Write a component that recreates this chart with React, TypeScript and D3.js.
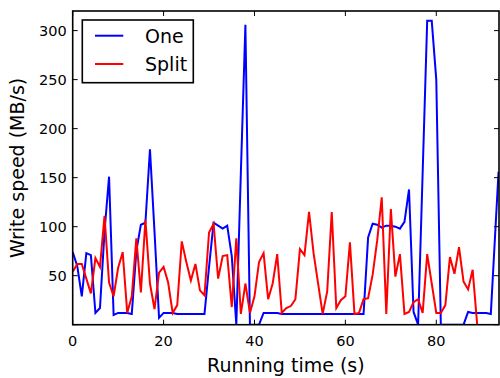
import React, { useEffect, useRef } from 'react';
import * as d3 from 'd3';

// write speed samples (MB/s), one per second
const oneSpeed = [
  74, 60, 29, 73, 71, 12, 17, 95, 151, 10,
  12, 12, 12, 11, 75, 102, 104, 179, 95, 7,
  12, 12, 12, 11, 11, 11, 11, 11, 11, 11,
  59, 104, 101, 98, 101, 70, 0, 155, 306, 0,
  0, 0, 12, 12, 12, 12, 11, 11, 11, 11,
  11, 11, 11, 11, 11, 11, 11, 11, 11, 11,
  11, 11, 11, 11, 11, 89, 103, 102, 99, 101,
  101, 100, 98, 105, 138, 13, 0, 155, 310, 310,
  250, 0, 0, 0, 0, 0, 0, 13, 12, 12,
  12, 12, 11, 156,
];
// last "One" sample lands a bit after 93 s
const oneTimes = [...d3.range(93), 93.7];

const splitSpeed = [
  54, 62, 62, 47, 32, 68, 59, 111, 43, 29,
  58, 74, 12, 29, 88, 33, 107, 42, 16, 53,
  59, 43, 12, 20, 85, 64, 45, 62, 35, 30,
  94, 103, 47, 70, 71, 18, 88, 11, 42, 12,
  29, 64, 73, 26, 42, 72, 12, 17, 19, 26,
  77, 71, 115, 73, 42, 11, 34, 115, 17, 25,
  29, 84, 11, 12, 26, 27, 51, 86, 130, 11,
  118, 49, 72, 11, 13, 23, 26, 12, 72, 42,
  12, 12, 20, 69, 52, 79, 44, 36, 56, 0,
];

const xTicks = [0, 20, 40, 60, 80];
const yTicks = [0, 50, 100, 150, 200, 250, 300];
const yLabelTicks = [50, 100, 150, 200, 250, 300];

const series = [
  { name: 'One', color: '#0000ff', times: oneTimes, values: oneSpeed },
  { name: 'Split', color: '#ff0000', times: splitSpeed.map((_, i) => i), values: splitSpeed },
];

const App: React.FC = () => {
  const chartRef = useRef<SVGSVGElement | null>(null);

  useEffect(() => {
    const W = 500, H = 378;
    const margin = { top: 11, right: 1, bottom: 53.3, left: 72.7 };
    const width = W - margin.left - margin.right;
    const height = H - margin.top - margin.bottom;
    const font = 'DejaVu Sans, sans-serif';

    d3.select(chartRef.current).selectAll('*').remove();

    const root = d3.select(chartRef.current)
      .attr('width', W)
      .attr('height', H);

    root.append('rect').attr('width', W).attr('height', H).attr('fill', '#fff');

    const svg = root.append('g')
      .attr('transform', `translate(${margin.left},${margin.top})`);

    const x = d3.scaleLinear().domain([0, 93.8]).range([0, width]);
    const y = d3.scaleLinear().domain([0, 320]).range([height, 0]);

    svg.append('clipPath').attr('id', 'plot-clip')
      .append('rect').attr('width', width).attr('height', height);

    const line = d3.line<[number, number]>()
      .x(d => x(d[0]))
      .y(d => y(d[1]));

    series.forEach(s => {
      const pts: [number, number][] = s.values.map((v, i) => [s.times[i], v]);
      svg.append('path')
        .datum(pts)
        .attr('clip-path', 'url(#plot-clip)')
        .attr('fill', 'none')
        .attr('stroke', s.color)
        .attr('stroke-width', 2)
        .attr('d', line);
    });

    // frame
    svg.append('rect')
      .attr('width', width).attr('height', height)
      .attr('fill', 'none').attr('stroke', '#000').attr('stroke-width', 1.6);

    const tickLen = 5;
    xTicks.forEach(t => {
      svg.append('line').attr('x1', x(t)).attr('x2', x(t)).attr('y1', height).attr('y2', height - tickLen)
        .attr('stroke', '#000').attr('stroke-width', 1);
      svg.append('line').attr('x1', x(t)).attr('x2', x(t)).attr('y1', 0).attr('y2', tickLen)
        .attr('stroke', '#000').attr('stroke-width', 1);
      svg.append('text').attr('x', x(t)).attr('y', height + 21)
        .attr('text-anchor', 'middle').attr('font-family', font).attr('font-size', 14.5)
        .text(t);
    });
    yTicks.forEach(t => {
      svg.append('line').attr('x1', 0).attr('x2', tickLen).attr('y1', y(t)).attr('y2', y(t))
        .attr('stroke', '#000').attr('stroke-width', 1);
      svg.append('line').attr('x1', width).attr('x2', width - tickLen).attr('y1', y(t)).attr('y2', y(t))
        .attr('stroke', '#000').attr('stroke-width', 1);
    });
    yLabelTicks.forEach(t => {
      svg.append('text').attr('x', -6).attr('y', y(t)).attr('dy', '0.36em')
        .attr('text-anchor', 'end').attr('font-family', font).attr('font-size', 14.5)
        .text(t);
    });

    svg.append('text')
      .attr('x', width / 2).attr('y', height + 47)
      .attr('text-anchor', 'middle').attr('font-family', font).attr('font-size', 19)
      .text('Running time (s)');

    svg.append('text')
      .attr('transform', `translate(${-49},${height / 2}) rotate(-90)`)
      .attr('text-anchor', 'middle').attr('font-family', font).attr('font-size', 19)
      .text('Write speed (MB/s)');

    // legend
    const legend = svg.append('g').attr('transform', `translate(${82.3 - margin.left},${20 - margin.top})`);
    legend.append('rect')
      .attr('width', 111).attr('height', 62.7)
      .attr('fill', '#fff').attr('stroke', '#000').attr('stroke-width', 1.6);
    series.forEach((s, i) => {
      const ly = 15.7 + i * 28.3;
      legend.append('line')
        .attr('x1', 12.7).attr('x2', 41).attr('y1', ly).attr('y2', ly)
        .attr('stroke', s.color).attr('stroke-width', 2);
      legend.append('text')
        .attr('x', 62.7).attr('y', ly).attr('dy', '0.36em')
        .attr('font-family', font).attr('font-size', 19)
        .text(s.name);
    });
  }, []);

  return <svg ref={chartRef} style={{ position: 'absolute', left: 0, top: 0 }}></svg>;
};

export default App;
